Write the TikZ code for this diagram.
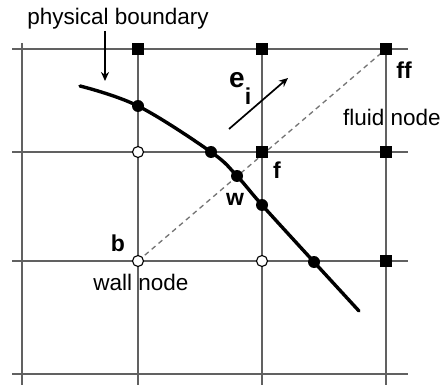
\documentclass[tikz,border=0pt]{standalone}
\usepackage{fontspec}
\setmainfont{Liberation Sans}
\usetikzlibrary{arrows.meta}
\begin{document}
\begin{tikzpicture}[x=1pt,y=-1pt,
  gridline/.style={draw=black!62,line width=1.7pt},
  sqnode/.style={rectangle,fill=black,minimum size=12pt,inner sep=0pt},
  opennode/.style={circle,draw=black,fill=white,line width=1.1pt,minimum size=11pt,inner sep=0pt},
  dotnode/.style={circle,fill=black,minimum size=12pt,inner sep=0pt},
  lbl/.style={font=\fontsize{22.5}{24}\selectfont,inner sep=0pt},
  blbl/.style={font=\fontsize{23}{24}\selectfont\bfseries,inner sep=0pt}]
\useasboundingbox (0,0) rectangle (441,390);
% grid
\foreach \yy in {49,152,261,374} \draw[gridline] (12,\yy) -- (408,\yy);
\foreach \xx in {22,138,262,386} \draw[gridline] (\xx,43) -- (\xx,385);
% dashed line
\coordinate (bc) at (138,261);
\coordinate (ffc) at (386,49);
\draw[black!55,line width=1.3pt,dash pattern=on 5pt off 4pt] (bc) -- (ffc);
% boundary
\draw[line width=3.4pt,line cap=round] plot[smooth,tension=0.6] coordinates {(80,86) (138,106) (211,152) (237,176) (262,205) (314,262) (359,311)};
% nodes
\node[sqnode] (s1) at (138,49) {};
\node[sqnode] (s2) at (262,49) {};
\node[sqnode] (ff) at (386,49) {};
\node[sqnode] (f) at (262,152) {};
\node[sqnode] (s5) at (386,152) {};
\node[sqnode] (s6) at (386,261) {};
\node[opennode] (o1) at (138,152) {};
\node[opennode] (b) at (138,261) {};
\node[opennode] (o3) at (262,261) {};
\node[dotnode] (d1) at (138,106) {};
\node[dotnode] (d2) at (211,152) {};
\node[dotnode] (w) at (237,176) {};
\node[dotnode] (d4) at (262,205) {};
\node[dotnode] (d5) at (314,262) {};
% labels
\node[lbl] (pb) at (118,19) {physical boundary};
\coordinate (pbs) at (105,31);
\coordinate (pbe) at (105,81);
\draw[line width=1.7pt,-{Stealth[length=9pt,width=8pt]}] (pbs) -- (pbe);
\coordinate (es) at (229,129);
\coordinate (ee) at (288,78);
\draw[line width=1.7pt,-{Stealth[length=9pt,width=8pt]}] (es) -- (ee);
\node[blbl,font=\fontsize{28}{28}\selectfont\bfseries] (ei) at (237,80) {e};
\node[blbl] (eii) at (248,96) {i};
\node[blbl] (ffl) at (404,70) {ff};
\node[blbl] (fl) at (277,170) {f};
\node[blbl] (wl) at (235,199) {w};
\node[blbl] (bl) at (118,243) {b};
\node[lbl] (fn) at (392,117) {fluid node};
\node[lbl] (wn) at (141,282) {wall node};
\end{tikzpicture}
\end{document}
